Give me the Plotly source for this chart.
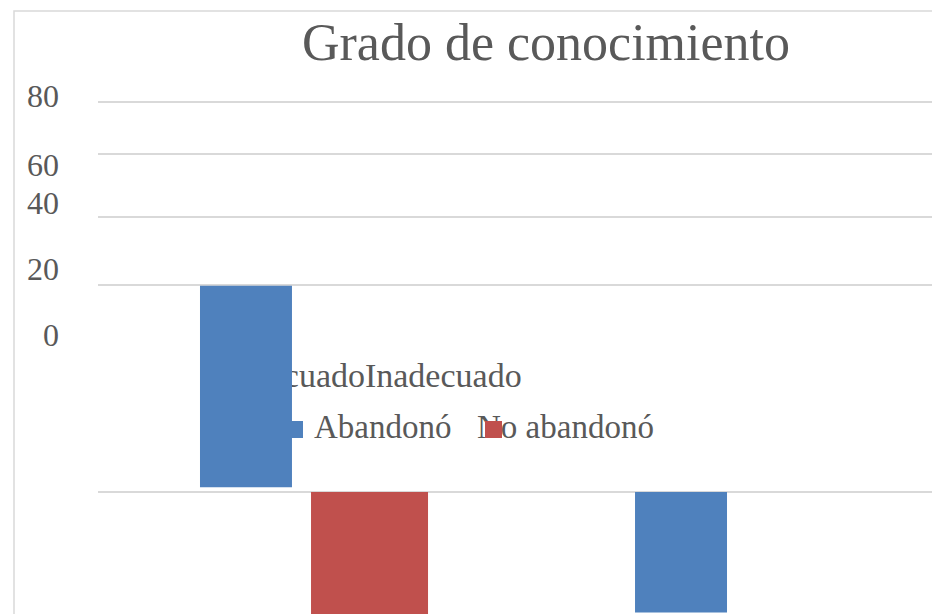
import plotly.graph_objects as go

# ---- data ----
title_text = "Grado de conocimiento"
categories = ["Adecuado", "Inadecuado"]
series_names = ["Abandonó", "No abandonó"]
abandono = [41.3, -24.7]          # bar lengths (Abandonó)
abandono_base = [1.0, 0.0]        # bar bases (Abandonó)
no_abandono = [-25.2, 0.0]        # bar lengths (No abandonó)
y_tick_labels = ["80", "60", "40", "20", "0"]

# ---- styling / layout ----
BLUE = "#4F81BD"
RED = "#C0504D"
GRID = "#D9D9D9"
TXT = "#595959"
FONT = "Liberation Serif"

W, H = 940, 614
SHIFT = 8  # page body margin offset


def fx(p):
    return p - SHIFT


# plot area in screen pixels
L_S, R_S, T_S, B_S = 98, 935, 80, 614
L, R, T, B = fx(L_S), fx(R_S), fx(T_S), fx(B_S)


def px_x(p):
    return (fx(p) - L) / (R - L)


def px_y(p):
    return (B - fx(p)) / (B - T)


# y scale: value 0 at screen pixel 492, 4.875 px per unit
Y0_PX, PX_PER_UNIT = 492, 4.875
y_range = [(Y0_PX - B_S) / PX_PER_UNIT, (Y0_PX - T_S) / PX_PER_UNIT]
grid_vals = [0, 42.46, 56.41, 69.33, 80]
label_vals = [81.2, 67.2, 59.4, 45.7, 32.2]

x_idx = list(range(len(categories)))

fig = go.Figure()
fig.add_trace(go.Bar(
    x=x_idx, y=abandono, base=abandono_base, name=series_names[0],
    width=0.2198, offset=[-0.2563, -0.2168],
    marker=dict(color=BLUE, line=dict(width=0)), showlegend=False,
))
fig.add_trace(go.Bar(
    x=x_idx, y=no_abandono, name=series_names[1],
    width=0.2796, offset=0.009,
    marker=dict(color=RED, line=dict(width=0)), showlegend=False,
))
# invisible helper trace so the label axis exists
fig.add_trace(go.Scatter(
    x=[0], y=[0], yaxis="y2", mode="markers",
    marker=dict(opacity=0), hoverinfo="skip", showlegend=False,
))

annotations = [
    dict(text=series_names[0], x=px_x(312), y=px_y(427), xref="paper", yref="paper",
         xanchor="left", yanchor="middle", showarrow=False,
         font=dict(family=FONT, size=33, color=TXT)),
    dict(text=series_names[1], x=px_x(475), y=px_y(427), xref="paper", yref="paper",
         xanchor="left", yanchor="middle", showarrow=False,
         font=dict(family=FONT, size=33, color=TXT)),
    dict(text=" ", x=px_x(294.5), y=px_y(429.5), xref="paper", yref="paper",
         xanchor="center", yanchor="middle", showarrow=False, width=17, height=17,
         bgcolor=BLUE, borderpad=0, borderwidth=0, font=dict(size=8)),
    dict(text=" ", x=px_x(493.5), y=px_y(429.5), xref="paper", yref="paper",
         xanchor="center", yanchor="middle", showarrow=False, width=17, height=17,
         bgcolor=RED, borderpad=0, borderwidth=0, font=dict(size=8)),
]

shapes = [
    dict(type="path", xref="paper", yref="paper",
         path=f"M {px_x(14)} {px_y(622)} L {px_x(14)} {px_y(11)} L {px_x(948)} {px_y(11)}",
         line=dict(color=GRID, width=1.5)),
]

fig.update_layout(
    width=W, height=H, autosize=False,
    margin=dict(l=L, r=W - R, t=T, b=H - B, pad=0),
    paper_bgcolor="white", plot_bgcolor="white",
    barmode="overlay", showlegend=False,
    font=dict(family=FONT, color=TXT),
    title=dict(text=title_text, x=px_x(546), xref="paper", xanchor="center",
               y=1 - fx(42) / H, yref="container", yanchor="middle",
               font=dict(family=FONT, size=52, color=TXT)),
    xaxis=dict(range=[-0.5, 1.5], anchor="free", position=px_y(352),
               tickmode="array", tickvals=[-0.0267, 0.3251], ticktext=categories,
               tickangle=0,
               tickfont=dict(family=FONT, size=34, color=TXT),
               showgrid=False, zeroline=False, showline=False, ticks="",
               layer="below traces", fixedrange=True),
    yaxis=dict(range=y_range, tickmode="array", tickvals=grid_vals,
               showticklabels=False, showgrid=True, gridcolor=GRID, gridwidth=1.5,
               zeroline=False, showline=False, ticks=""),
    yaxis2=dict(range=y_range, overlaying="y", side="left", anchor="x",
                tickmode="array", tickvals=label_vals, ticktext=y_tick_labels,
                tickfont=dict(family=FONT, size=32, color=TXT),
                showgrid=False, zeroline=False, showline=False, ticks="",
                ticklabelstandoff=38),
    annotations=annotations, shapes=shapes,
)

fig.write_html("out.html")
